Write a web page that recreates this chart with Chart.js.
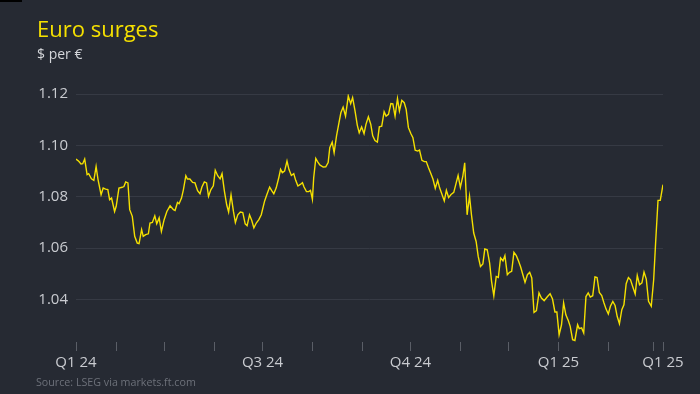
<!DOCTYPE html>
<html>
<head>
<meta charset="utf-8">
<script src="https://cdn.jsdelivr.net/npm/chart.js@4.4.1/dist/chart.umd.min.js"></script>
<style>
  html, body { margin: 0; padding: 0; background: #262a33; }
  #wrap { position: relative; width: 700px; height: 394px; overflow: hidden; font-family: "Open Sans", sans-serif; }
  #grafico { position: absolute; left: 0; top: 0; }
  .txt { position: absolute; left: 37px; white-space: nowrap; line-height: 1; }
  #titulo { top: 17px; font-size: 22px; color: #f5e000; }
  #sub { top: 47px; font-size: 14px; color: #d4d6da; }
  #fonte { top: 377px; font-size: 10.7px; color: #6d717a; left: 36px; }
  #marca { position: absolute; left: 0; top: 0; width: 22px; height: 2px; background: #000; }
</style>
</head>
<body>
<div id="wrap">
  <canvas id="grafico" width="700" height="394"></canvas>
  <div id="marca"></div>
  <div class="txt" id="titulo">Euro surges</div>
  <div class="txt" id="sub">$ per €</div>
  <div class="txt" id="fonte">Source: LSEG via markets.ft.com</div>
</div>
<script>
// dias desde 7 mar 2024 e cotação $ por €
const dias = [
  0.0, 1.7, 3.1, 4.2, 5.4, 6.9, 7.9, 9.6, 11.1, 12.5, 13.7, 15.6, 16.9, 18.4, 19.8, 20.9, 22.1, 24.0, 25.0, 26.7,
  28.7, 29.8, 30.9, 32.3, 33.4, 35.0, 36.5, 38.1, 39.2, 40.8, 41.8, 43.3, 45.0, 46.0, 47.5, 49.0, 50.2, 51.7, 53.1, 54.8,
  56.5, 58.5, 60.6, 61.6, 63.1, 64.1, 65.6, 66.8, 68.3, 69.3, 70.8, 72.5, 74.0, 75.6, 77.1, 78.3, 79.8, 81.2, 82.4, 83.9,
  85.4, 86.6, 88.1, 89.6, 90.8, 92.3, 93.7, 94.9, 96.4, 97.9, 99.1, 100.6, 102.2, 103.7, 105.2, 106.4, 107.9, 109.3, 110.6, 112.1,
  113.7, 115.2, 117.3, 118.7, 120.4, 121.8, 123.0, 124.5, 126.0, 127.2, 128.3, 129.7, 131.2, 132.4, 133.9, 135.4, 136.6, 138.0, 139.5, 140.8,
  141.8, 143.3, 144.7, 145.8, 147.0, 147.8, 149.1, 150.2, 151.6, 153.7, 155.3, 156.8, 157.8, 159.3, 160.5, 162.0, 163.5, 164.7, 166.1, 167.6,
  169.3, 170.8, 172.0, 173.5, 174.9, 176.1, 177.6, 179.1, 180.3, 181.8, 183.3, 184.5, 185.9, 187.4, 188.6, 190.1, 191.6, 192.8, 194.3, 195.8,
  197.0, 198.4, 199.9, 201.1, 202.6, 204.1, 205.3, 206.7, 208.2, 209.5, 210.9, 212.4, 213.6, 215.1, 216.6, 217.8, 219.2, 220.7, 222.0, 223.4,
  224.9, 226.1, 227.6, 229.0, 230.3, 231.7, 233.2, 234.9, 236.4, 237.6, 239.0, 240.5, 241.7, 243.2, 244.7, 245.9, 247.3, 248.8, 250.1, 251.5,
  253.0, 254.2, 255.7, 257.2, 258.4, 259.8, 261.3, 262.6, 264.0, 265.5, 266.7, 268.2, 269.6, 270.9, 272.3, 273.8, 275.1, 276.5, 278.0, 279.2,
  280.7, 282.1, 283.4, 284.8, 286.3, 287.9, 289.4, 291.1, 293.2, 294.8, 296.3, 297.8, 299.0, 300.4, 301.9, 303.2, 304.6, 306.1, 307.3, 308.8,
  310.2, 311.9, 312.9, 314.4, 315.7, 317.1, 318.5, 319.8, 321.3, 322.7, 324.0, 325.4, 326.9, 328.2, 329.6, 331.0, 332.3, 333.8, 335.2, 336.5,
  337.9, 339.4, 340.7, 342.1, 343.5, 344.8, 346.3, 347.7, 349.0, 350.4, 351.9, 353.2, 354.6, 356.0, 357.7, 359.2, 360.4, 361.9, 363.3, 365.0
];
const cotacao = [
  1.0947, 1.0938, 1.0928, 1.0929, 1.0947, 1.0886, 1.0890, 1.0870, 1.0864, 1.0918, 1.0867, 1.0808, 1.0834, 1.0830, 1.0828, 1.0789, 1.0795, 1.0743, 1.0763, 1.0834,
  1.0837, 1.0840, 1.0858, 1.0854, 1.0750, 1.0724, 1.0646, 1.0620, 1.0618, 1.0672, 1.0646, 1.0653, 1.0656, 1.0698, 1.0700, 1.0726, 1.0695, 1.0718, 1.0665, 1.0711,
  1.0743, 1.0765, 1.0750, 1.0747, 1.0778, 1.0773, 1.0795, 1.0828, 1.0882, 1.0869, 1.0869, 1.0856, 1.0854, 1.0824, 1.0812, 1.0838, 1.0858, 1.0854, 1.0802, 1.0828,
  1.0843, 1.0903, 1.0882, 1.0870, 1.0890, 1.0821, 1.0769, 1.0741, 1.0807, 1.0743, 1.0700, 1.0730, 1.0741, 1.0739, 1.0695, 1.0688, 1.0730, 1.0708, 1.0679, 1.0698,
  1.0711, 1.0730, 1.0784, 1.0809, 1.0838, 1.0823, 1.0812, 1.0835, 1.0872, 1.0907, 1.0894, 1.0900, 1.0939, 1.0907, 1.0883, 1.0890, 1.0864, 1.0842, 1.0848, 1.0855,
  1.0838, 1.0820, 1.0820, 1.0825, 1.0790, 1.0874, 1.0949, 1.0937, 1.0924, 1.0916, 1.0917, 1.0933, 1.0991, 1.1013, 1.0972, 1.1037, 1.1088, 1.1127, 1.1149, 1.1114,
  1.1192, 1.1162, 1.1186, 1.1134, 1.1079, 1.1049, 1.1072, 1.1046, 1.1082, 1.1111, 1.1082, 1.1037, 1.1019, 1.1013, 1.1072, 1.1075, 1.1131, 1.1114, 1.1121, 1.1163,
  1.1162, 1.1114, 1.1182, 1.1134, 1.1175, 1.1166, 1.1140, 1.1069, 1.1046, 1.1030, 1.0981, 1.0978, 1.0982, 1.0942, 1.0937, 1.0937, 1.0913, 1.0890, 1.0868, 1.0833,
  1.0864, 1.0835, 1.0809, 1.0784, 1.0825, 1.0797, 1.0809, 1.0817, 1.0854, 1.0883, 1.0837, 1.0879, 1.0932, 1.0730, 1.0802, 1.0730, 1.0659, 1.0626, 1.0568, 1.0529,
  1.0539, 1.0597, 1.0594, 1.0542, 1.0471, 1.0415, 1.0490, 1.0486, 1.0562, 1.0551, 1.0571, 1.0497, 1.0506, 1.0510, 1.0584, 1.0571, 1.0551, 1.0527, 1.0494, 1.0467,
  1.0497, 1.0506, 1.0484, 1.0350, 1.0357, 1.0426, 1.0406, 1.0396, 1.0412, 1.0423, 1.0402, 1.0352, 1.0352, 1.0263, 1.0302, 1.0387, 1.0341, 1.0319, 1.0296, 1.0244,
  1.0241, 1.0302, 1.0287, 1.0290, 1.0270, 1.0412, 1.0426, 1.0410, 1.0415, 1.0488, 1.0486, 1.0428, 1.0416, 1.0389, 1.0363, 1.0344, 1.0374, 1.0393, 1.0377, 1.0335,
  1.0306, 1.0361, 1.0380, 1.0462, 1.0486, 1.0477, 1.0448, 1.0422, 1.0494, 1.0458, 1.0465, 1.0507, 1.0480, 1.0393, 1.0374, 1.0477, 1.0620, 1.0786, 1.0786, 1.0847
];

// marcas do eixo x (inicio de cada mes) e rotulos
const diasTick = [0, 25, 55, 86, 116, 147, 178, 208, 239, 269, 300, 331, 359, 365];
const rotulosTick = ['Q1 24', '', '', '', 'Q3 24', '', '', 'Q4 24', '', '', 'Q1 25', '', '', 'Q1 25'];
const valoresY = [1.04, 1.06, 1.08, 1.10, 1.12];

const AMARELO = '#f5e000';
const fonteEixo = { family: '"Open Sans", sans-serif', size: 15 };

new Chart(document.getElementById('grafico'), {
    type: 'line',
    data: {
        datasets: [{
            data: dias.map((d, i) => ({ x: d, y: cotacao[i] })),
            borderColor: AMARELO, borderWidth: 1.4,
            pointRadius: 0, tension: 0, fill: false
        }]
    },
    options: {
        responsive: false, animation: false,
        layout: { padding: { left: 36, right: 37, top: 94, bottom: 12 } },
        plugins: { legend: { display: false }, tooltip: { enabled: false } },
        scales: {
            x: {
                type: 'linear', min: 0, max: 365,
                afterBuildTicks: s => { s.ticks = diasTick.map(v => ({ value: v })); },
                afterFit: s => { s.height = 40; },
                border: { display: false },
                grid: { drawOnChartArea: false, drawTicks: true, tickLength: 9, color: '#5a5e67', lineWidth: 1 },
                ticks: {
                    autoSkip: false, maxRotation: 0, padding: 3, color: '#c9cbd0', font: fonteEixo,
                    callback: (v, i) => rotulosTick[i]
                }
            },
            y: {
                min: 1.0235, max: 1.12,
                afterBuildTicks: s => { s.ticks = valoresY.map(v => ({ value: v })); },
                afterFit: s => { s.width = 40; },
                border: { display: false },
                grid: { drawTicks: false, color: '#363a44', lineWidth: 1 },
                ticks: { padding: 8, color: '#c9cbd0', font: fonteEixo, callback: v => v.toFixed(2) }
            }
        }
    }
});
</script>
</body>
</html>
